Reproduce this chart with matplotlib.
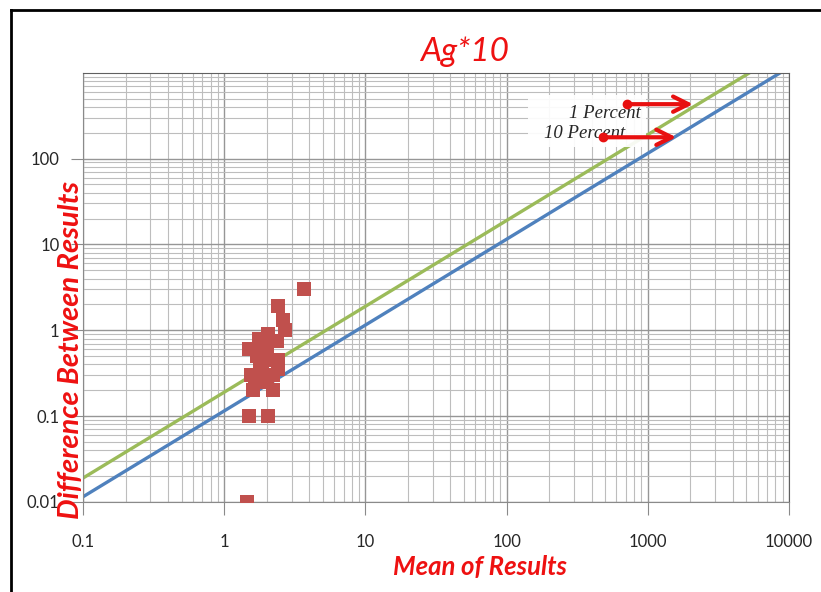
import matplotlib
matplotlib.use("Agg")
import matplotlib.pyplot as plt
from matplotlib.ticker import LogLocator, FixedLocator, FixedFormatter

# data
line_x = [0.1, 1, 10, 100, 1000, 10000]
one_percent = [0.019, 0.19, 1.9, 19, 190, 1900]      # green
ten_percent = [0.0115, 0.115, 1.15, 11.5, 115, 1150]  # blue

mean_vals = [3.7, 2.4, 2.6, 2.7, 2.05, 1.5, 1.9, 2.35, 1.7, 2.4, 1.55, 2.2, 2.4,
             1.6, 2.2, 1.5, 2.05, 1.45, 1.8, 1.65, 2.0, 1.85, 2.0, 1.75, 1.9, 2.1, 1.75]
diff_vals = [3.0, 1.9, 1.3, 1.0, 0.9, 0.6, 0.7, 0.75, 0.5, 0.45, 0.3, 0.3, 0.35,
             0.2, 0.2, 0.1, 0.1, 0.01, 0.4, 0.25, 0.25, 0.35, 0.55, 0.8, 0.3, 0.45, 0.6]

x_ticks = [0.1, 1, 10, 100, 1000, 10000]
x_labels = ['0.1', '1', '10', '100', '1000', '10000']
y_ticks = [0.01, 0.1, 1, 10, 100]
y_labels = ['0.01', '0.1', '1', '10', '100']

plt.rcParams['font.family'] = ['Lato', 'DejaVu Sans']

fig = plt.figure(figsize=(8.21, 5.92), dpi=100)
ax = fig.add_axes([83 / 821, 1 - 502 / 592, (789 - 83) / 821, (502 - 72.7) / 592])

ax.set_xscale('log')
ax.set_yscale('log')
ax.set_xlim(0.1, 10000)
ax.set_ylim(0.01, 1000)

# grid
ax.xaxis.set_minor_locator(LogLocator(base=10, subs=range(2, 10)))
ax.yaxis.set_minor_locator(LogLocator(base=10, subs=range(2, 10)))
ax.grid(True, which='major', color='#969696', linewidth=1.0)
ax.grid(True, which='minor', color='#bdbdbd', linewidth=0.8)
ax.set_axisbelow(True)

ax.plot(line_x, ten_percent, color='#4f81bd', linewidth=2.4, solid_capstyle='butt')
ax.plot(line_x, one_percent, color='#9bbb59', linewidth=2.4, solid_capstyle='butt')
ax.scatter(mean_vals, diff_vals, marker='s', s=95, color='#c0504d', linewidths=0, zorder=3)

ax.xaxis.set_major_locator(FixedLocator(x_ticks))
ax.xaxis.set_major_formatter(FixedFormatter(x_labels))
ax.yaxis.set_major_locator(FixedLocator(y_ticks))
ax.yaxis.set_major_formatter(FixedFormatter(y_labels))
ax.tick_params(which='major', length=9, color='#8a8a8a', labelsize=12,
               labelcolor='#262626', pad=8)
ax.tick_params(which='minor', length=0)
ax.tick_params(axis='x', pad=14)

for side in ['left', 'bottom']:
    ax.spines[side].set_color('#8a8a8a')
for side in ['top', 'right']:
    ax.spines[side].set_color('#606060')

# white box behind the labels
box = plt.Rectangle((528 / 821, 1 - 147 / 592), 118 / 821, 52 / 592,
                    transform=fig.transFigure, facecolor='white', edgecolor='none',
                    zorder=3.5, alpha=0.92)
ax.add_patch(box)

ax.text(605 / 821, 1 - 113 / 592, '1 Percent', family='Liberation Serif',
        style='italic', fontsize=13.5, color='#262626', ha='center', va='center',
        transform=fig.transFigure, zorder=4)
ax.text(585 / 821, 1 - 133 / 592, '10 Percent', family='Liberation Serif',
        style='italic', fontsize=13.5, color='#262626', ha='center', va='center',
        transform=fig.transFigure, zorder=4)

arrow_kw = dict(arrowstyle='->,head_length=1.1,head_width=0.55', color='#e81010',
                lw=3, shrinkA=0, shrinkB=0)
ax.annotate('', xy=(2090, 430), xytext=(713, 430), arrowprops=arrow_kw, zorder=5)
ax.annotate('', xy=(1590, 177), xytext=(482, 177), arrowprops=arrow_kw, zorder=5)
ax.plot([713, 482], [430, 177], 'o', color='#e81010', markersize=6, zorder=5)

fig.text(465 / 821, 1 - 52 / 592, 'Ag*10', fontsize=24, style='italic',
         color='#ee1111', ha='center', va='center')
fig.text(480 / 821, 1 - 567 / 592, 'Mean of Results', fontsize=18.5, style='italic',
         weight='bold', color='#ee1111', ha='center', va='center')
fig.text(71 / 821, 1 - 350 / 592, 'Difference Between Results', fontsize=21,
         style='italic', weight='bold', color='#ee1111', ha='center', va='center',
         rotation=90)

# outer frame (top and left edges)
fig.add_artist(plt.Line2D([11 / 821, 11 / 821], [0, 1 - 10 / 592], color='black',
                          lw=2, transform=fig.transFigure))
fig.add_artist(plt.Line2D([11 / 821, 1], [1 - 10 / 592, 1 - 10 / 592], color='black',
                          lw=2, transform=fig.transFigure))

fig.savefig('out.png', dpi=100)
